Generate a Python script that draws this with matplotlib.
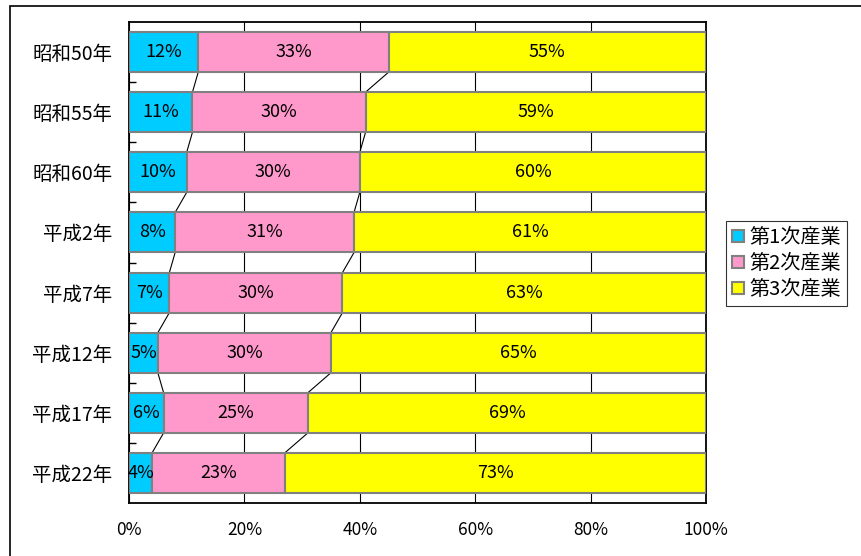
import matplotlib
matplotlib.use("Agg")
import matplotlib.pyplot as plt
from matplotlib.patches import Rectangle
import numpy as np

plt.rcParams['font.family'] = ['Noto Sans CJK JP', 'DejaVu Sans']

years = ["昭和50年", "昭和55年", "昭和60年", "平成2年", "平成7年", "平成12年", "平成17年", "平成22年"]
series = ["第1次産業", "第2次産業", "第3次産業"]
primary = [12, 11, 10, 8, 7, 5, 6, 4]
secondary = [33, 30, 30, 31, 30, 30, 25, 23]
tertiary = [55, 59, 60, 61, 63, 65, 69, 73]
colors = ["#00CCFF", "#FF99CC", "#FFFF00"]

data = np.array([primary, secondary, tertiary], dtype=float)
shares = data / data.sum(axis=0) * 100

fig = plt.figure(figsize=(8.61, 5.56), dpi=100)
ax = fig.add_axes([129/861, 1 - 503/556, 577/861, 481/556])

y = np.arange(len(years))
h = 0.667
left = np.zeros(len(years))
for vals, raw, name, c in zip(shares, data, series, colors):
    ax.barh(y, vals, left=left, height=h, color=c, edgecolor="#808080",
            linewidth=1.5, label=name, zorder=3)
    for yi, l, v, r in zip(y, left, vals, raw):
        ax.text(l + v / 2, yi, f"{int(r)}%", ha="center", va="center",
                fontsize=13, zorder=4)
    left = left + vals

# series lines between bars
cum = np.cumsum(shares, axis=0)
for row in cum[:-1]:
    for i in range(len(years) - 1):
        ax.plot([row[i], row[i + 1]], [y[i] + h / 2, y[i + 1] - h / 2],
                color="black", linewidth=0.8, zorder=2)

ax.set_xlim(0, 100)
ax.set_ylim(len(years) - 0.5, -0.5)
ax.set_xticks(np.arange(0, 101, 20))
ax.set_xticklabels([f"{v}%" for v in range(0, 101, 20)], fontsize=12.5)
ax.set_yticks(y)
ax.set_yticklabels(years, fontsize=14)
ax.set_yticks(np.arange(0.5, len(years) - 0.5, 1), minor=True)
ax.tick_params(axis="y", which="major", length=0, pad=12)
ax.tick_params(axis="y", which="minor", length=5, direction="in", width=1)
ax.tick_params(axis="x", length=0, pad=13)
ax.grid(axis="x", color="black", linewidth=0.8, zorder=0)
ax.set_axisbelow(True)
for s in ax.spines.values():
    s.set_linewidth(1.3)

leg = ax.legend(loc="upper left", bbox_to_anchor=(726/861, 1 - 221/556),
                bbox_transform=fig.transFigure, fontsize=14.5, frameon=True,
                fancybox=False, edgecolor="black", handlelength=0.6,
                handleheight=0.6, handletextpad=0.25, borderpad=0.3,
                labelspacing=0.25, borderaxespad=0)
leg.get_frame().set_linewidth(0.8)

# outer frame
fig.patches.append(Rectangle((10/861, -0.1), 1.2, 1 - 6/556 + 0.1,
                             transform=fig.transFigure, fill=False,
                             edgecolor="black", linewidth=1.2))

fig.savefig("out.png", dpi=100)
